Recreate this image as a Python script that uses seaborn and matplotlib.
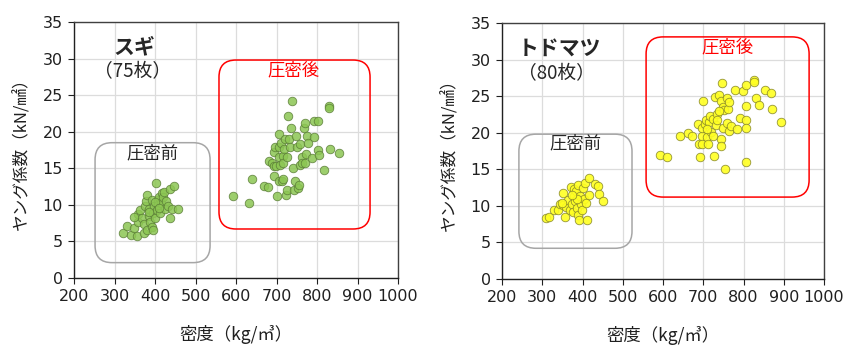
import matplotlib
matplotlib.use("Agg")
import matplotlib.pyplot as plt
from matplotlib.patches import FancyBboxPatch
import seaborn as sns
import pandas as pd

# ---- data: スギ (sugi) ----
sugi_pre_x = [320, 332, 340, 349, 355, 357, 357, 363, 367, 372, 372, 376, 377, 380, 380, 384, 385,
              388, 392, 392, 394, 396, 398, 400, 403, 405, 407, 408, 411, 413, 415, 417, 419, 421,
              425, 427, 433, 436, 437, 443, 447, 458, 347, 386, 401, 410]
sugi_pre_y = [6.1, 7.1, 5.9, 6.8, 5.8, 7.6, 8.8, 9.3, 8.2, 7.4, 6.1, 9.8, 10.5, 11.4, 6.6, 8.5, 9.5,
              7.7, 7.0, 10.7, 6.6, 8.9, 9.9, 8.2, 13.0, 9.3, 10.7, 10.0, 11.1, 8.9, 10.2, 11.6, 11.1,
              11.8, 9.5, 10.5, 9.8, 8.2, 12.1, 9.5, 12.6, 9.5, 8.4, 9.0, 10.4, 9.6]
sugi_post_x = [592, 633, 639, 668, 680, 681, 689, 693, 694, 694, 696, 699, 701, 705, 705, 707, 707,
               709, 711, 713, 715, 715, 717, 719, 722, 724, 726, 727, 728, 730, 734, 736, 738, 740,
               742, 746, 749, 750, 753, 755, 757, 759, 763, 763, 767, 771, 771, 774, 775, 779, 787,
               792, 792, 802, 802, 804, 818, 829, 830, 831, 855]
sugi_post_y = [11.2, 10.3, 13.6, 12.6, 12.5, 16.0, 15.7, 15.3, 14.0, 17.2, 17.9, 15.3, 11.2, 19.7,
               13.2, 17.9, 16.6, 15.5, 18.4, 13.2, 13.6, 16.7, 15.7, 17.6, 19.0, 11.3, 16.5, 12.0,
               22.1, 19.0, 17.9, 20.5, 24.2, 15.0, 12.0, 13.2, 19.4, 17.9, 12.3, 12.7, 15.5, 18.3,
               16.6, 15.7, 20.5, 21.2, 15.7, 17.0, 19.4, 18.5, 16.4, 21.5, 19.3, 21.5, 17.5, 16.8,
               14.8, 23.5, 23.3, 17.6, 17.1]

# ---- data: トドマツ (todomatsu) ----
todo_pre_x = [310, 316, 328, 338, 345, 351, 351, 357, 360, 365, 368, 371, 374, 376, 379, 380, 382,
              384, 386, 388, 390, 391, 394, 396, 398, 402, 404, 407, 408, 411, 415, 417, 431, 438,
              440, 450, 386, 374, 349]
todo_pre_y = [8.4, 8.5, 9.5, 9.4, 10.3, 11.7, 10.1, 8.5, 9.9, 10.8, 9.4, 12.6, 10.3, 9.2, 11.4,
              12.3, 10.6, 12.0, 9.7, 12.9, 8.8, 8.0, 11.3, 10.3, 9.5, 12.4, 10.9, 13.1, 10.4, 8.0,
              11.5, 13.8, 13.0, 12.7, 11.6, 10.7, 11.0, 11.5, 10.4]
todo_post_x = [593, 611, 642, 661, 671, 686, 690, 692, 696, 698, 698, 700, 704, 706, 709, 712, 715,
               718, 720, 723, 725, 727, 729, 731, 733, 735, 740, 743, 745, 745, 746, 748, 748, 751,
               755, 758, 759, 762, 763, 764, 770, 778, 783, 792, 799, 807, 807, 807, 807, 807, 826,
               827, 832, 839, 853, 868, 872, 892, 709, 738]
todo_post_y = [16.9, 16.7, 19.5, 19.9, 19.5, 21.2, 18.5, 16.7, 19.5, 18.5, 20.6, 24.4, 21.2, 21.7,
               19.4, 18.5, 21.4, 22.3, 20.1, 21.9, 19.5, 16.8, 24.9, 21.0, 22.6, 21.7, 25.1, 24.4,
               19.2, 18.2, 26.8, 23.5, 20.7, 23.1, 15.0, 24.7, 21.3, 23.3, 20.3, 24.2, 20.9, 25.8,
               20.5, 22.0, 25.7, 26.5, 23.6, 21.8, 20.7, 16.0, 27.2, 27.0, 24.8, 23.8, 25.8, 25.4,
               23.3, 21.4, 20.5, 23.0]

x_ticks = [200, 300, 400, 500, 600, 700, 800, 900, 1000]
y_ticks = [0, 5, 10, 15, 20, 25, 30, 35]

sns.set_theme(style="white")
plt.rcParams['font.family'] = ['DejaVu Sans', 'Noto Sans CJK JP']
JP = ['Noto Sans CJK JP', 'DejaVu Sans']

fig = plt.figure(figsize=(8.51, 3.5), dpi=100)
ax1 = fig.add_axes([74/851, 1-278/350, 324/851, 256/350])
ax2 = fig.add_axes([502/851, 1-279/350, 322/851, 256/350])


def rbox(ax, x0, y0, x1, y1, color, w_px):
    xr = 800 / w_px
    yr = 35 / 256
    p = FancyBboxPatch((x0, y0), x1 - x0, y1 - y0,
                       boxstyle="round,pad=0,rounding_size=%f" % (17 * xr),
                       mutation_aspect=yr / xr, transform=ax.transData,
                       fill=False, edgecolor=color, linewidth=1.1, zorder=1)
    ax.add_patch(p)


def setup(ax, w_px):
    ax.set_xlim(200, 1000)
    ax.set_ylim(0, 35)
    ax.set_xticks(x_ticks)
    ax.set_yticks(y_ticks)
    ax.grid(True, color='#dcdcdc', linewidth=0.9, zorder=0)
    ax.set_axisbelow(True)
    for s in ['top', 'right']:
        ax.spines[s].set_color('#404040')
        ax.spines[s].set_linewidth(1.0)
    for s in ['left', 'bottom']:
        ax.spines[s].set_color('#202020')
        ax.spines[s].set_linewidth(1.0)
    ax.tick_params(axis='both', direction='out', length=4, width=0.8, color='#202020',
                   labelsize=11.5, pad=4, bottom=True, left=True, labelcolor='#202020')
    ax.set_xlabel('密度（kg/㎥）', family=JP, fontsize=12.5, labelpad=15, color='#202020')
    ax.set_ylabel('ヤング係数（kN/㎟）', family=JP, fontsize=12, labelpad=9, color='#202020')


# left panel
df1 = pd.DataFrame({'x': sugi_pre_x + sugi_post_x, 'y': sugi_pre_y + sugi_post_y})
sns.scatterplot(data=df1, x='x', y='y', ax=ax1, s=38, color='#8cc653', edgecolor='#5a7d36',
                linewidth=0.6, alpha=0.85, zorder=3)
setup(ax1, 324)
rbox(ax1, 252, 2.1, 536, 18.5, '#a6a6a6', 324)
rbox(ax1, 558, 6.7, 931, 29.8, '#ff0000', 324)
ax1.text(350, 31.6, 'スギ', family=JP, fontsize=15, fontweight='bold', ha='center', va='center')
ax1.text(345, 28.2, '（75枚）', family=JP, fontsize=13.5, ha='center', va='center')
ax1.text(393, 17.1, '圧密前', family=JP, fontsize=12.5, ha='center', va='center')
ax1.text(743, 28.4, '圧密後', family=JP, fontsize=12.5, ha='center', va='center', color='#ff0000')

# right panel
df2 = pd.DataFrame({'x': todo_pre_x + todo_post_x, 'y': todo_pre_y + todo_post_y})
sns.scatterplot(data=df2, x='x', y='y', ax=ax2, s=38, color='#ffff22', edgecolor='#8a8a2a',
                linewidth=0.6, alpha=0.9, zorder=3)
setup(ax2, 322)
rbox(ax2, 242, 4.2, 523, 19.8, '#a6a6a6', 322)
rbox(ax2, 558, 11.2, 963, 33.1, '#ff0000', 322)
ax2.text(342, 31.4, 'トドマツ', family=JP, fontsize=15, fontweight='bold', ha='center', va='center')
ax2.text(336, 28.1, '（80枚）', family=JP, fontsize=13.5, ha='center', va='center')
ax2.text(383, 18.6, '圧密前', family=JP, fontsize=12.5, ha='center', va='center')
ax2.text(760, 31.7, '圧密後', family=JP, fontsize=12.5, ha='center', va='center', color='#ff0000')

fig.savefig('out.png', dpi=100)
